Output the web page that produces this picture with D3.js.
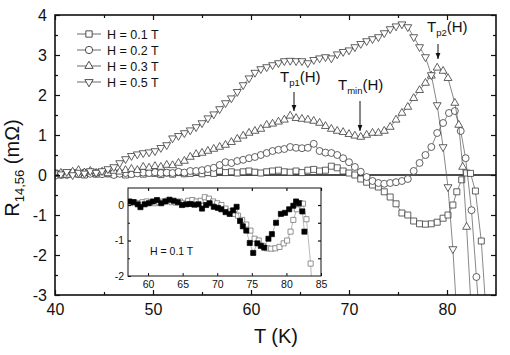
<!DOCTYPE html>
<html>
<head>
<meta charset="utf-8">
<script src="https://cdn.jsdelivr.net/npm/d3@7"></script>
<style>
  body { margin: 0; background: #fff; }
  svg { display: block; font-family: "Liberation Sans", Arial, Helvetica, sans-serif; }
</style>
</head>
<body>
<svg id="chart" width="510" height="355"></svg>
<script>
// R_14,56 (mOhm) vs T (K)
const h01 = [[40.0,0.05],[40.6,0.0],[41.2,0.03],[41.8,0.06],[42.4,0.02],[43.0,0.0],[43.6,0.04],[44.2,0.02],[44.8,0.06],[45.4,0.03],
  [46.0,0.02],[46.6,0.05],[47.2,0.0],[47.8,0.03],[48.4,0.06],[49.0,0.02],[49.6,0.05],[50.2,0.04],[50.8,0.01],[51.4,0.05],
  [52.0,0.02],[52.6,0.06],[53.2,0.03],[53.8,0.04],[54.4,0.07],[55.0,0.03],[55.6,0.06],[56.2,0.04],[56.8,0.1],[57.4,0.06],
  [58.0,0.08],[58.6,0.05],[59.2,0.08],[59.8,0.1],[60.4,0.07],[61.0,0.05],[61.6,0.08],[62.2,0.1],[62.8,0.12],[63.4,0.08],
  [64.0,0.07],[64.6,0.1],[65.2,0.06],[65.8,0.12],[66.4,0.14],[67.0,0.1],[67.6,0.12],[68.2,0.22],[68.8,0.18],[69.4,0.1],
  [70.0,0.05],[70.6,0.0],[71.2,-0.1],[71.8,-0.18],[72.4,-0.25],[73.0,-0.3],[73.6,-0.42],[74.2,-0.55],[74.8,-0.72],[75.4,-0.95],
  [76.0,-1.0],[76.6,-1.15],[77.2,-1.22],[77.8,-1.23],[78.4,-1.22],[79.0,-1.18],[79.6,-1.08],[80.1,-1.0],[80.6,-0.75],[81.0,-0.42],
  [81.5,-0.12],[82.0,0.05],[82.4,0.04],[82.9,-0.4],[83.5,-1.65],[84.0,-3.5]]

const h02 = [[40.0,-0.02],[40.6,0.02],[41.2,0.0],[41.8,0.05],[42.4,0.02],[43.0,0.06],[43.6,0.03],[44.2,0.05],[44.8,0.02],[45.4,0.04],
  [46.0,0.0],[46.6,0.03],[47.2,0.05],[47.8,0.02],[48.4,0.04],[49.0,0.06],[49.6,0.05],[50.2,0.07],[50.8,0.05],[51.4,0.06],
  [52.0,0.05],[52.6,0.08],[53.2,0.06],[53.8,0.1],[54.4,0.1],[55.0,0.12],[55.6,0.15],[56.2,0.18],[56.8,0.25],[57.4,0.32],
  [58.0,0.3],[58.6,0.35],[59.2,0.38],[59.8,0.42],[60.4,0.45],[61.0,0.5],[61.6,0.55],[62.2,0.6],[62.8,0.63],[63.4,0.65],
  [64.0,0.7],[64.6,0.68],[65.2,0.67],[65.8,0.68],[66.4,0.78],[67.0,0.6],[67.6,0.56],[68.2,0.55],[68.8,0.5],[69.4,0.42],
  [70.0,0.32],[70.6,0.2],[71.2,0.08],[71.8,-0.05],[72.4,-0.15],[73.0,-0.2],[73.6,-0.22],[74.2,-0.2],[74.8,-0.18],[75.4,-0.15],
  [76.0,-0.1],[76.6,0.1],[77.2,0.3],[77.8,0.5],[78.4,0.7],[79.0,1.05],[79.6,1.3],[80.2,1.55],[80.8,1.6],[81.4,1.1],
  [81.9,0.42],[82.5,-0.88],[83.0,-2.55],[83.3,-3.5]]

const h03 = [[40.0,0.02],[40.6,0.05],[41.2,0.0],[41.8,0.08],[42.4,0.12],[43.0,0.06],[43.6,0.1],[44.2,0.05],[44.8,0.08],[45.4,0.04],
  [46.0,0.1],[46.6,0.08],[47.2,0.12],[47.8,0.15],[48.4,0.12],[49.0,0.2],[49.6,0.18],[50.2,0.22],[50.8,0.2],[51.4,0.25],
  [52.0,0.24],[52.6,0.3],[53.2,0.35],[53.8,0.45],[54.4,0.52],[55.0,0.55],[55.6,0.6],[56.2,0.65],[56.8,0.7],[57.4,0.75],
  [58.0,0.82],[58.6,0.9],[59.2,0.98],[59.8,1.05],[60.4,1.1],[61.0,1.15],[61.6,1.25],[62.2,1.28],[62.8,1.33],[63.4,1.38],
  [64.0,1.48],[64.6,1.42],[65.2,1.4],[65.8,1.38],[66.4,1.35],[67.0,1.3],[67.6,1.22],[68.2,1.15],[68.8,1.1],[69.4,1.07],
  [70.0,1.02],[70.6,0.98],[71.2,0.95],[71.8,1.0],[72.4,1.05],[73.0,1.05],[73.6,1.1],[74.2,1.2],[74.8,1.38],[75.4,1.55],
  [76.0,1.7],[76.6,1.92],[77.2,2.12],[77.8,2.3],[78.4,2.48],[79.0,2.68],[79.6,2.6],[80.1,2.42],[80.8,1.8],[81.2,1.25],
  [81.6,0.2],[82.0,-1.3],[82.5,-3.5]]

const h05 = [[40.0,0.05],[40.6,0.02],[41.2,0.08],[41.8,0.0],[42.4,0.06],[43.0,0.04],[43.6,0.1],[44.2,0.06],[44.8,0.1],[45.4,0.15],
  [46.0,0.2],[46.6,0.3],[47.2,0.4],[47.8,0.48],[48.4,0.52],[49.0,0.55],[49.6,0.57],[50.2,0.6],[50.8,0.68],[51.4,0.75],
  [52.0,0.92],[52.6,0.98],[53.2,1.05],[53.8,1.12],[54.4,1.2],[55.0,1.3],[55.6,1.42],[56.2,1.52],[56.8,1.65],[57.4,1.8],
  [58.0,1.92],[58.6,2.08],[59.2,2.25],[59.8,2.42],[60.4,2.56],[61.0,2.65],[61.6,2.7],[62.2,2.75],[62.8,2.8],[63.4,2.85],
  [64.0,2.86],[64.6,2.85],[65.2,2.85],[65.8,2.8],[66.4,2.88],[67.0,2.92],[67.6,2.95],[68.2,2.92],[68.8,3.02],[69.4,3.08],
  [70.0,3.12],[70.6,3.2],[71.2,3.28],[71.8,3.35],[72.4,3.4],[73.0,3.45],[73.6,3.55],[74.2,3.65],[74.8,3.72],[75.4,3.77],
  [76.0,3.7],[76.6,3.45],[77.2,3.2],[77.8,2.95],[78.4,2.5],[79.0,1.75],[79.6,0.7],[80.1,-0.3],[80.6,-1.85],[81.0,-3.5]]

// inset: second run at H = 0.1 T (filled squares)
const h01b = [[57.3,0.1],[57.9,0.08],[58.5,0.02],[58.9,-0.06],[59.5,0.02],[60.1,0.05],[60.7,0.1],[61.3,0.14],[61.9,0.05],[62.5,0.1],
  [63.1,0.15],[63.7,0.12],[64.3,0.08],[64.9,0.0],[65.5,0.02],[66.1,0.03],[66.7,0.01],[67.3,0.02],[67.8,-0.1],[68.4,0.0],
  [68.9,0.05],[69.5,-0.05],[70.1,-0.08],[70.6,-0.12],[71.2,-0.2],[71.8,-0.25],[72.3,-0.15],[72.8,-0.05],[73.3,-0.45],[73.7,-0.6],
  [74.2,-0.72],[74.7,-1.07],[75.2,-1.35],[75.8,-1.08],[76.3,-1.15],[76.8,-1.2],[77.4,-0.95],[77.9,-0.82],[78.5,-0.5],[79.2,-0.25],
  [79.8,-0.22],[80.4,-0.12],[81.0,-0.02],[81.4,0.1],[81.8,0.05],[82.3,-0.18],[82.6,-0.75]]

const seriesLabels = ['H = 0.1 T', 'H = 0.2 T', 'H = 0.3 T', 'H = 0.5 T']
const xTicks = [40, 50, 60, 70, 80]
const yTicks = [-3, -2, -1, 0, 1, 2, 3, 4]
const insetXTicks = [60, 65, 70, 75, 80, 85]
const insetYTicks = [-2, -1, 0]

const series = [
    {label: seriesLabels[0], data: h01, shape: 'square'},
    {label: seriesLabels[1], data: h02, shape: 'circle'},
    {label: seriesLabels[2], data: h03, shape: 'up'},
    {label: seriesLabels[3], data: h05, shape: 'down'}
]

const svg = d3.select('#chart')
const black = '#111'
const markStroke = '#3a3a3a'

const x = d3.scaleLinear().domain([40, 85]).range([55, 496])
const y = d3.scaleLinear().domain([-3, 4]).range([295, 15])

const symbolPath = (shape, s) => {
    if (shape == 'square') return d3.symbol(d3.symbolSquare, 36 * s)()
    if (shape == 'circle') return d3.symbol(d3.symbolCircle, 38 * s)()
    return d3.symbol(d3.symbolTriangle, 27 * s)()
}
const symbolTransform = (shape, px, py) =>
    `translate(${px},${py})` + (shape == 'down' ? ' rotate(180)' : '')

const defs = svg.append('defs')
defs.append('clipPath').attr('id', 'clip-main')
    .append('rect').attr('x', 55).attr('y', 15).attr('width', 441).attr('height', 280)
defs.append('clipPath').attr('id', 'clip-inset')
    .append('rect').attr('x', 128).attr('y', 188).attr('width', 193).attr('height', 88)
defs.append('marker').attr('id', 'arrow')
    .attr('viewBox', '0 0 10 10').attr('refX', 10).attr('refY', 5)
    .attr('markerWidth', 6).attr('markerHeight', 6).attr('orient', 'auto')
    .append('path').attr('d', 'M0,1 L10,5 L0,9 Z').attr('fill', black)

// zero line
svg.append('line')
    .attr('x1', x(40)).attr('x2', x(85)).attr('y1', y(0)).attr('y2', y(0))
    .attr('stroke', black).attr('stroke-width', 1.4)

// main series
const plot = svg.append('g').attr('clip-path', 'url(#clip-main)')
const line = d3.line().x(d => x(d[0])).y(d => y(d[1]))

series.forEach(s => {
    plot.append('path')
        .attr('d', line(s.data))
        .attr('fill', 'none').attr('stroke', '#555').attr('stroke-width', 0.7)
    plot.selectAll(null)
        .data(s.data)
        .enter()
            .append('path')
            .attr('d', symbolPath(s.shape, 1))
            .attr('transform', d => symbolTransform(s.shape, x(d[0]), y(d[1])))
            .attr('fill', '#fff').attr('stroke', markStroke).attr('stroke-width', 0.8)
})

// axes, ticks pointing inward on all four sides
const fmt = d => String(d)
const styleAxis = (g, size) => {
    g.select('.domain').remove()
    g.selectAll('.tick line').attr('stroke', black).attr('stroke-width', 1.2)
    g.selectAll('.tick text').attr('fill', black).style('font-size', size + 'px')
}

svg.append('g').attr('transform', 'translate(0,295)')
    .call(d3.axisBottom(x).tickValues(xTicks).tickFormat(fmt).tickSize(-5).tickPadding(9))
    .call(g => styleAxis(g, 16))
svg.append('g').attr('transform', 'translate(0,295)')
    .call(d3.axisBottom(x).tickValues([45, 55, 65, 75]).tickFormat('').tickSize(-3))
    .call(g => styleAxis(g, 16))
svg.append('g').attr('transform', 'translate(0,15)')
    .call(d3.axisTop(x).tickValues(xTicks).tickFormat('').tickSize(-5))
    .call(g => styleAxis(g, 16))
svg.append('g').attr('transform', 'translate(0,15)')
    .call(d3.axisTop(x).tickValues([45, 55, 65, 75]).tickFormat('').tickSize(-3))
    .call(g => styleAxis(g, 16))

const yMinor = [-2.5, -1.5, -0.5, 0.5, 1.5, 2.5, 3.5]
svg.append('g').attr('transform', 'translate(55,0)')
    .call(d3.axisLeft(y).tickValues(yTicks).tickFormat(fmt).tickSize(-5).tickPadding(8))
    .call(g => styleAxis(g, 16))
svg.append('g').attr('transform', 'translate(55,0)')
    .call(d3.axisLeft(y).tickValues(yMinor).tickFormat('').tickSize(-3))
    .call(g => styleAxis(g, 16))
svg.append('g').attr('transform', 'translate(496,0)')
    .call(d3.axisRight(y).tickValues(yTicks).tickFormat('').tickSize(-5))
    .call(g => styleAxis(g, 16))
svg.append('g').attr('transform', 'translate(496,0)')
    .call(d3.axisRight(y).tickValues(yMinor).tickFormat('').tickSize(-3))
    .call(g => styleAxis(g, 16))

svg.append('rect')
    .attr('x', 55).attr('y', 15).attr('width', 441).attr('height', 280)
    .attr('fill', 'none').attr('stroke', black).attr('stroke-width', 1.6)

// axis titles
svg.append('text')
    .attr('x', 276).attr('y', 343)
    .attr('text-anchor', 'middle').style('font-size', '20px').attr('fill', black)
    .text('T (K)')

const ylab = svg.append('text')
    .attr('transform', 'translate(19,168) rotate(-90)')
    .attr('text-anchor', 'middle').style('font-size', '20px').attr('fill', black)
ylab.append('tspan').text('R')
ylab.append('tspan').attr('dy', 5).style('font-size', '13px').text('14,56')
ylab.append('tspan').attr('dy', -5).text(' (mΩ)')

// legend
const legend = svg.append('g')
series.forEach((s, i) => {
    const ly = 34 + i * 16
    legend.append('line')
        .attr('x1', 77).attr('x2', 101).attr('y1', ly).attr('y2', ly)
        .attr('stroke', '#444').attr('stroke-width', 0.8)
    legend.append('path')
        .attr('d', symbolPath(s.shape, 1.1))
        .attr('transform', symbolTransform(s.shape, 89, ly))
        .attr('fill', '#fff').attr('stroke', markStroke).attr('stroke-width', 0.9)
    legend.append('text')
        .attr('x', 107).attr('y', ly + 4.5)
        .style('font-size', '12.5px').attr('fill', black)
        .text(s.label)
})

// annotations with arrows
const notes = [
    {sub: 'p1', tx: 280, ty: 82, ax: 294, ay1: 92, ay2: 111},
    {sub: 'min', tx: 338, ty: 90, ax: 360, ay1: 101, ay2: 131},
    {sub: 'p2', tx: 427, ty: 32, ax: 438, ay1: 44, ay2: 59}
]
notes.forEach(n => {
    const t = svg.append('text')
        .attr('x', n.tx).attr('y', n.ty)
        .style('font-size', '15px').attr('fill', black)
    t.append('tspan').text('T')
    t.append('tspan').attr('dy', 4).style('font-size', '9.5px').text(n.sub)
    t.append('tspan').attr('dy', -4).text('(H)')
    svg.append('line')
        .attr('x1', n.ax).attr('x2', n.ax).attr('y1', n.ay1).attr('y2', n.ay2)
        .attr('stroke', black).attr('stroke-width', 1)
        .attr('marker-end', 'url(#arrow)')
})

// inset
const x2 = d3.scaleLinear().domain([57.1, 85]).range([128, 321])
const y2 = d3.scaleLinear().domain([-2, 0.48]).range([276, 188])

svg.append('rect')
    .attr('x', 128).attr('y', 188).attr('width', 193).attr('height', 88)
    .attr('fill', '#fff')

const inset = svg.append('g').attr('clip-path', 'url(#clip-inset)')
const line2 = d3.line().x(d => x2(d[0])).y(d => y2(d[1]))
const insetSeries = [
    {data: h01.filter(d => d[0] >= 57), fill: '#fff', stroke: '#666'},
    {data: h01b, fill: '#000', stroke: '#000'}
]
insetSeries.forEach(s => {
    inset.append('path')
        .attr('d', line2(s.data))
        .attr('fill', 'none').attr('stroke', '#999').attr('stroke-width', 0.7)
    inset.selectAll(null)
        .data(s.data)
        .enter()
            .append('path')
            .attr('d', d3.symbol(d3.symbolSquare, 26)())
            .attr('transform', d => `translate(${x2(d[0])},${y2(d[1])})`)
            .attr('fill', s.fill).attr('stroke', s.stroke).attr('stroke-width', 0.7)
})

svg.append('g').attr('transform', 'translate(0,276)')
    .call(d3.axisBottom(x2).tickValues(insetXTicks).tickFormat(fmt).tickSize(-3).tickPadding(5))
    .call(g => styleAxis(g, 10.5))
svg.append('g').attr('transform', 'translate(0,188)')
    .call(d3.axisTop(x2).tickValues(insetXTicks).tickFormat('').tickSize(-3))
    .call(g => styleAxis(g, 10.5))
svg.append('g').attr('transform', 'translate(128,0)')
    .call(d3.axisLeft(y2).tickValues(insetYTicks).tickFormat(fmt).tickSize(-3).tickPadding(4))
    .call(g => styleAxis(g, 10.5))
svg.append('g').attr('transform', 'translate(128,0)')
    .call(d3.axisLeft(y2).tickValues([-1.5, -0.5]).tickFormat('').tickSize(-2))
    .call(g => styleAxis(g, 10.5))
svg.append('g').attr('transform', 'translate(321,0)')
    .call(d3.axisRight(y2).tickValues([-1.5, -1, -0.5, 0]).tickFormat('').tickSize(-3))
    .call(g => styleAxis(g, 10.5))
svg.selectAll('g').filter(function() { return this.getAttribute('transform') && this.getAttribute('transform').includes('276') })
    .selectAll('.tick line').attr('stroke-width', 1)

svg.append('rect')
    .attr('x', 128).attr('y', 188).attr('width', 193).attr('height', 88)
    .attr('fill', 'none').attr('stroke', black).attr('stroke-width', 1)

svg.append('text')
    .attr('x', 150).attr('y', 255)
    .style('font-size', '10.5px').attr('fill', black)
    .text('H = 0.1 T')
</script>
</body>
</html>
